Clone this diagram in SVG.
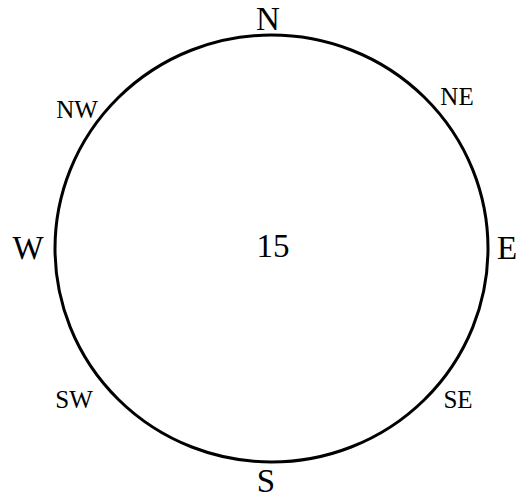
<svg xmlns="http://www.w3.org/2000/svg" width="531" height="499" viewBox="0 0 531 499">
<style>
.big{font-size:33px}
.small{font-size:25px}
</style>
<rect width="531" height="499" fill="#fff"/>
<g id="connectors"></g>
<g id="dial"><ellipse cx="271.5" cy="248.5" rx="216.5" ry="213.5" fill="none" stroke="#000" stroke-width="3"/></g>
<g font-family="'Liberation Serif', 'Times New Roman', Times, serif" text-anchor="middle" fill="#000">
<g id="N"><text class="big" x="268" y="30">N</text></g>
<g id="S"><text class="big" x="266" y="492">S</text></g>
<g id="W"><text class="big" x="28" y="259">W</text></g>
<g id="E"><text class="big" x="507" y="259">E</text></g>
<g id="NE"><text class="small" x="457" y="105">NE</text></g>
<g id="NW"><text class="small" x="77" y="118">NW</text></g>
<g id="SW"><text class="small" x="74" y="408">SW</text></g>
<g id="SE"><text class="small" x="458" y="408">SE</text></g>
<g id="center"><text class="big" x="273" y="257">15</text></g>
</g>
</svg>
